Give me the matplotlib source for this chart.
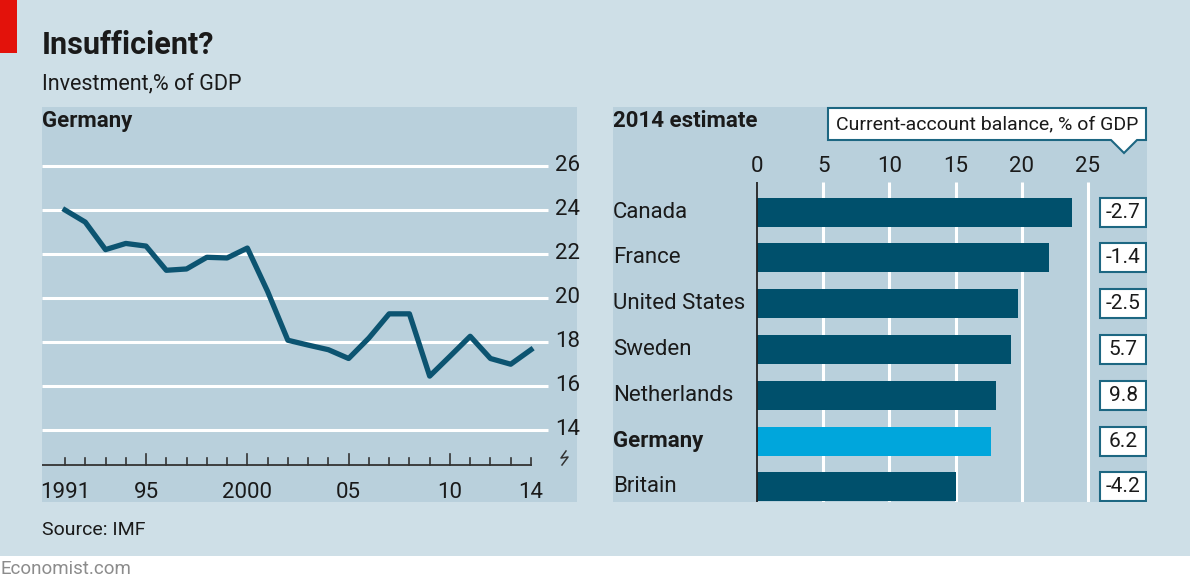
import matplotlib
matplotlib.use("Agg")
import matplotlib.pyplot as plt
import matplotlib.patches as mpatches

plt.rcParams["font.family"] = ["Roboto", "DejaVu Sans"]

# Germany investment, % of GDP
years = list(range(1991, 2015))
investment = [24.0, 23.45, 22.2, 22.48, 22.36, 21.26, 21.32, 21.85, 21.82, 22.27,
              20.3, 18.08, 17.86, 17.65, 17.25, 18.18, 19.28, 19.28, 16.45, 17.35,
              18.26, 17.25, 16.99, 17.65]
y_ticks = [14, 16, 18, 20, 22, 24, 26]
x_label_years = [1991, 1995, 2000, 2005, 2010, 2014]
x_labels = ["1991", "95", "2000", "05", "10", "14"]
major_years = [1995, 2000, 2005, 2010]

# 2014 estimate, investment % of GDP, and current-account balance
countries = ["Canada", "France", "United States", "Sweden", "Netherlands", "Germany", "Britain"]
invest_2014 = [23.8, 22.05, 19.7, 19.15, 18.05, 17.65, 15.0]
current_account = ["-2.7", "-1.4", "-2.5", "5.7", "9.8", "6.2", "-4.2"]
bar_ticks = [0, 5, 10, 15, 20, 25]

W, H = 1190, 588
OUTER = "#cedfe7"
PANEL = "#b9d0dc"
DARK = "#00506c"
LIGHT = "#00a6dc"
LINE = "#0c5471"
BOX_EDGE = "#1d6782"
TXT = "#1a1a1a"
FS = 16


def fx(px):
    return px / W


def fy(py):
    return 1 - py / H


fig = plt.figure(figsize=(W / 100, H / 100), dpi=100)
fig.patch.set_facecolor("white")
fig.add_artist(mpatches.Rectangle((0, fy(556)), 1, 556 / H, transform=fig.transFigure,
                                  facecolor=OUTER, edgecolor="none", zorder=0))
fig.add_artist(mpatches.Rectangle((0, fy(53)), fx(17), 53 / H, transform=fig.transFigure,
                                  facecolor="#e3120b", edgecolor="none", zorder=1))

fig.text(fx(42), fy(54), "Insufficient?", fontsize=22, fontweight="bold", color=TXT, va="baseline")
fig.text(fx(42), fy(89), "Investment,% of GDP", fontsize=15.5, color=TXT, va="baseline")
fig.text(fx(42), fy(530), "Source: IMF", fontsize=FS - 2, color=TXT, va="center")
fig.text(fx(0), fy(569), "Economist.com", fontsize=13.5, color="#8c8c8c", va="center")

# ---- left panel: line chart ----
ax1 = fig.add_axes([fx(42), fy(502), (577 - 42) / W, (502 - 107) / H])
ax1.set_facecolor(PANEL)
px_per_year = 20.26
px_per_unit = 22.0
x_min = 1991 - 23 / px_per_year
x_max = 1991 + (577 - 65) / px_per_year
y_min = 14 - 72 / px_per_unit
y_max = 14 + 323 / px_per_unit
ax1.set_xlim(x_min, x_max)
ax1.set_ylim(y_min, y_max)
for s in ax1.spines.values():
    s.set_visible(False)
ax1.set_xticks([])
ax1.set_yticks([])

grid_end = 1991 + (548 - 65) / px_per_year
for v in y_ticks:
    ax1.plot([x_min, grid_end], [v, v], color="white", lw=2.2, zorder=1, solid_capstyle="butt")
    ax1.text(1991 + (555 - 65) / px_per_year, v, str(v), fontsize=FS, color=TXT,
             ha="left", va="center")

base = 14 - 35 / px_per_unit
ax1.plot([x_min, years[-1]], [base, base], color="#333333", lw=1.3, zorder=2)
for yr in years:
    h = 11 if yr in major_years else 7
    ax1.plot([yr, yr], [base, base + h / px_per_unit], color="#333333", lw=1.2, zorder=2)
label_y = 14 - 63 / px_per_unit
for yr, lab in zip(x_label_years, x_labels):
    ax1.text(yr, label_y, lab, fontsize=FS, color=TXT, ha="center", va="center")

# axis break mark
bx = [566, 561, 568, 562]
by = [451, 458, 457, 465]
ax1.plot([1991 + (p - 65) / px_per_year for p in bx],
         [14 - (p - 430) / px_per_unit for p in by], color="#333333", lw=1.1, zorder=2)

ax1.plot(years, investment, color=LINE, lw=3.8, zorder=3)
fig.text(fx(42), fy(127), "Germany", fontsize=FS, fontweight="bold", color=TXT, va="baseline")

# ---- right panel: bar chart ----
ax2 = fig.add_axes([fx(613), fy(502), (1147 - 613) / W, (502 - 107) / H])
ax2.set_facecolor(PANEL)
px_per_pct = 13.24
row_px = 45.83
bx_min = -(757 - 613) / px_per_pct
bx_max = (1147 - 757) / px_per_pct
by_top = (107 - 212) / row_px
by_bot = (502 - 212) / row_px
ax2.set_xlim(bx_min, bx_max)
ax2.set_ylim(by_bot, by_top)
for s in ax2.spines.values():
    s.set_visible(False)
ax2.set_xticks([])
ax2.set_yticks([])

grid_top = (182 - 212) / row_px
for t in bar_ticks[1:]:
    ax2.plot([t, t], [grid_top, by_bot], color="white", lw=2.2, zorder=1, solid_capstyle="butt")
tick_y = (166 - 212) / row_px
for t in bar_ticks:
    ax2.text(t, tick_y, str(t), fontsize=FS, color=TXT, ha="center", va="center")

bar_h = 29 / row_px
rows = list(range(len(countries)))
colors = [LIGHT if c == "Germany" else DARK for c in countries]
ax2.barh(rows, invest_2014, height=bar_h, left=0, color=colors, zorder=2)
ax2.plot([0, 0], [grid_top, by_bot], color="#222222", lw=1.3, zorder=3, solid_capstyle="butt")

box_x0 = (1100 - 757) / px_per_pct
box_x1 = (1146 - 757) / px_per_pct
for i, (c, val) in enumerate(zip(countries, current_account)):
    ax2.text(bx_min + 0.0, i, c, fontsize=FS, color=TXT, ha="left", va="center",
             fontweight="bold" if c == "Germany" else "normal")
    ax2.add_patch(mpatches.Rectangle((box_x0, i - bar_h / 2), box_x1 - box_x0, bar_h,
                                     facecolor="white", edgecolor=BOX_EDGE, lw=1.5, zorder=3))
    ax2.text((box_x0 + box_x1) / 2, i, val, fontsize=FS - 1, color=TXT,
             ha="center", va="center", zorder=4)

# callout box with pointer
cx0 = (828 - 757) / px_per_pct
cx1 = (1146 - 757) / px_per_pct
cy0 = (108 - 212) / row_px
cy1 = (140 - 212) / row_px
tip_x = (1124 - 757) / px_per_pct
tip_y = (153 - 212) / row_px
tl = (1111 - 757) / px_per_pct
tr = (1137 - 757) / px_per_pct
callout = mpatches.Polygon(
    [(cx0, cy0), (cx1, cy0), (cx1, cy1), (tr, cy1), (tip_x, tip_y), (tl, cy1), (cx0, cy1)],
    closed=True, facecolor="white", edgecolor=BOX_EDGE, lw=1.5, zorder=5, clip_on=False)
ax2.add_patch(callout)
ax2.text((cx0 + cx1) / 2, (cy0 + cy1) / 2, "Current-account balance, % of GDP",
         fontsize=14, color=TXT, ha="center", va="center", zorder=6)

fig.text(fx(613), fy(127), "2014 estimate", fontsize=FS, fontweight="bold", color=TXT, va="baseline")

fig.savefig("out.png", dpi=100, facecolor=fig.get_facecolor())
